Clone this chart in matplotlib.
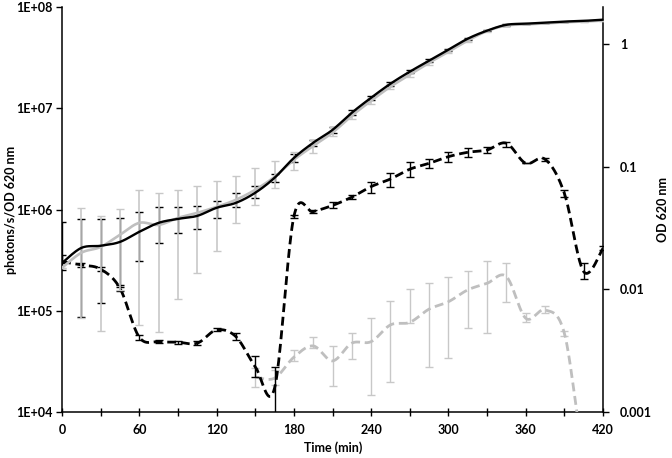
import numpy as np
import matplotlib
matplotlib.use("Agg")
import matplotlib.pyplot as plt
from matplotlib.ticker import FixedLocator, FixedFormatter

plt.rcParams['font.family'] = ['Lato', 'DejaVu Sans']
plt.rcParams['font.weight'] = 'bold'

time = [0, 15, 30, 45, 60, 75, 90, 105, 120, 135, 150, 165, 180, 195, 210,
        225, 240, 255, 270, 285, 300, 315, 330, 345, 360, 375, 390, 405, 420]

# OD 620 nm (right axis)
od_black = [0.0164, 0.0218, 0.0227, 0.0244, 0.0295, 0.0349, 0.0376, 0.0398, 0.0463, 0.0508,
            0.0614, 0.0813, 0.118, 0.157, 0.200, 0.276, 0.366, 0.476, 0.597, 0.733,
            0.902, 1.109, 1.29, 1.44, 1.47, 1.50, 1.53, 1.55, 1.585]
od_black_lo = [0.0164, 0.0059, 0.0077, 0.0104, 0.0172, 0.0238, 0.0291, 0.031, 0.038, 0.0466,
               0.056, 0.0755, 0.109, 0.148, 0.190, 0.264, 0.352, 0.460, 0.580, 0.715,
               0.882, 1.09, 1.27, 1.42, 1.47, 1.50, 1.53, 1.55, 1.585]
od_black_hi = [0.0356, 0.0377, 0.0377, 0.0384, 0.0424, 0.0474, 0.0474, 0.0483, 0.0527, 0.061,
               0.070, 0.0875, 0.127, 0.166, 0.210, 0.288, 0.380, 0.492, 0.614, 0.751,
               0.922, 1.13, 1.31, 1.46, 1.47, 1.50, 1.53, 1.55, 1.585]

od_gray = [0.0150, 0.0199, 0.0222, 0.0279, 0.0349, 0.0336, 0.0383, 0.0421, 0.0471, 0.0538,
           0.0649, 0.0828, 0.114, 0.148, 0.190, 0.261, 0.346, 0.450, 0.564, 0.706,
           0.868, 1.07, 1.28, 1.42, 1.45, 1.48, 1.51, 1.53, 1.56]
od_gray_lo = [0.0150, 0.00585, 0.00461, 0.0099, 0.00513, 0.00452, 0.00832, 0.0137, 0.0204, 0.0351,
              0.049, 0.067, 0.0933, 0.129, 0.177, 0.245, 0.328, 0.428, 0.540, 0.680,
              0.840, 1.04, 1.25, 1.40, 1.45, 1.48, 1.51, 1.53, 1.56]
od_gray_hi = [0.0150, 0.0462, 0.0398, 0.0454, 0.0641, 0.061, 0.0641, 0.070, 0.0773, 0.0834,
              0.0976, 0.1125, 0.132, 0.166, 0.211, 0.275, 0.362, 0.470, 0.588, 0.730,
              0.895, 1.10, 1.31, 1.44, 1.45, 1.48, 1.51, 1.53, 1.56]

# photons/s/OD 620 nm (left axis)
lum_black = [3.06e5, 2.84e5, 2.58e5, 1.67e5, 5.48e4, 4.96e4, 4.90e4, 4.79e4, 6.47e4, 5.56e4,
             2.81e4, 1.72e4, 8.53e5, 9.55e5, 1.10e6, 1.33e6, 1.69e6, 2.01e6, 2.51e6, 2.87e6,
             3.34e6, 3.69e6, 3.89e6, 4.53e6, 2.87e6, 3.15e6, 1.45e6, 2.44e5, 4.14e5]
lum_black_lo = [2.55e5, 2.70e5, 2.45e5, 1.58e5, 5.2e4, 4.8e4, 4.75e4, 4.55e4, 6.25e4, 5.2e4,
                2.24e4, 6.2e3, 8.2e5, 9.2e5, 1.03e6, 1.27e6, 1.47e6, 1.66e6, 2.12e6, 2.56e6,
                2.98e6, 3.30e6, 3.65e6, 4.2e6, 2.87e6, 3.05e6, 1.34e6, 2.07e5, 3.95e5]
lum_black_hi = [3.57e5, 2.98e5, 2.71e5, 1.78e5, 5.8e4, 5.12e4, 5.05e4, 5.05e4, 6.7e4, 6.0e4,
                3.58e4, 2.81e4, 8.9e5, 9.9e5, 1.20e6, 1.40e6, 1.89e6, 2.32e6, 2.94e6, 3.17e6,
                3.69e6, 4.10e6, 4.15e6, 4.64e6, 2.87e6, 3.25e6, 1.57e6, 2.99e5, 4.35e5]

nan = np.nan
lum_gray = [nan, nan, nan, nan, nan, nan, nan, nan, nan, nan,
            2.21e4, 2.16e4, 3.48e4, 4.50e4, 3.20e4, 4.79e4, 4.96e4, 7.26e4, 7.7e4, 1.04e5,
            1.23e5, 1.61e5, 1.87e5, 2.18e5, 8.45e4, 1.02e5, 6.01e4, 4.1e3, 2.0e3]
lum_gray_lo = [nan, nan, nan, nan, nan, nan, nan, nan, nan, nan,
               1.78e4, 1.85e4, 3.18e4, 4.27e4, 1.81e4, 3.32e4, 1.48e4, 1.97e4, 7.6e4, 2.81e4,
               3.40e4, 6.73e4, 6.01e4, 1.23e5, 7.82e4, 9.47e4, 5.7e4, 4.1e3, 2.0e3]
lum_gray_hi = [nan, nan, nan, nan, nan, nan, nan, nan, nan, nan,
               2.71e4, 2.61e4, 4.11e4, 5.56e4, 4.50e4, 6.01e4, 8.45e4, 1.26e5, 1.63e5, 1.90e5,
               2.18e5, 2.49e5, 3.13e5, 2.99e5, 9.6e4, 1.12e5, 6.3e4, 4.1e3, 2.0e3]

x_ticks = [0, 30, 60, 90, 120, 150, 180, 210, 240, 270, 300, 330, 360, 390, 420]
x_labels = ['0', '', '60', '', '120', '', '180', '', '240', '', '300', '', '360', '', '420']
left_ticks = [1e4, 1e5, 1e6, 1e7, 1e8]
left_labels = ['1E+04', '1E+05', '1E+06', '1E+07', '1E+08']
right_ticks = [0.001, 0.01, 0.1, 1]
right_labels = ['0.001', '0.01', '0.1', '1']

BLACK = '#000000'
GRAY = '#bfbfbf'
GRAY_ERR = '#c8c8c8'


def smooth(x, y, n=24):
    """Excel-like smoothed line (Catmull-Rom Bezier) in log-y display space."""
    x = np.asarray(x, float)
    y = np.asarray(y, float)
    m = ~np.isnan(y)
    x, ly = x[m], np.log10(y[m])
    pts = np.column_stack([x, ly])
    out = [pts[0]]
    t = np.linspace(0, 1, n)[1:, None]
    for i in range(len(pts) - 1):
        p0 = pts[max(i - 1, 0)]
        p1 = pts[i]
        p2 = pts[i + 1]
        p3 = pts[min(i + 2, len(pts) - 1)]
        c1 = p1 + (p2 - p0) / 6.0
        c2 = p2 - (p3 - p1) / 6.0
        seg = ((1 - t) ** 3) * p1 + 3 * ((1 - t) ** 2) * t * c1 + 3 * (1 - t) * t ** 2 * c2 + t ** 3 * p2
        out.extend(seg)
    out = np.array(out)
    return out[:, 0], 10 ** out[:, 1]


def err(v, lo, hi):
    v = np.asarray(v, float)
    return [v - np.asarray(lo, float), np.asarray(hi, float) - v]


fig = plt.figure(figsize=(6.72, 4.58), dpi=100)
ax = fig.add_axes([62 / 672, 46 / 458, 541 / 672, 404.7 / 458])
ax2 = ax.twinx()

ax.set_yscale('log')
ax2.set_yscale('log')
ax.set_xlim(0, 420)
ax.set_ylim(1e4, 1e8)
ax2.set_ylim(0.001, 2.0)

# luminescence (left axis), dashed
ax.errorbar(time, lum_gray, yerr=err(lum_gray, lum_gray_lo, lum_gray_hi), fmt='none',
            ecolor=GRAY_ERR, elinewidth=1.0, capsize=3.2, capthick=1.0, zorder=2)
xs, ys = smooth(time, lum_gray)
ax.plot(xs, ys, color=GRAY, lw=2.0, dashes=(3.2, 1.7), zorder=3)
ax.errorbar(time, lum_black, yerr=err(lum_black, lum_black_lo, lum_black_hi), fmt='none',
            ecolor=BLACK, elinewidth=1.0, capsize=3.2, capthick=1.0, zorder=4)
xs, ys = smooth(time, lum_black)
ax.plot(xs, ys, color=BLACK, lw=2.0, dashes=(3.2, 1.7), zorder=5)

# OD (right axis), solid
ax2.errorbar(time, od_black, yerr=err(od_black, od_black_lo, od_black_hi), fmt='none',
             ecolor=BLACK, elinewidth=1.0, capsize=3.2, capthick=1.0, zorder=2)
ax2.errorbar(time, od_gray, yerr=err(od_gray, od_gray_lo, od_gray_hi), fmt='none',
             ecolor=GRAY_ERR, elinewidth=1.2, capsize=3.2, capthick=1.0, zorder=3)
xs, ys = smooth(time, od_gray)
ax2.plot(xs, ys, color=GRAY, lw=1.9, solid_capstyle='round', zorder=4)
xs, ys = smooth(time, od_black)
ax2.plot(xs, ys, color=BLACK, lw=1.7, solid_capstyle='round', zorder=5)

# axes styling
for a in (ax, ax2):
    a.spines['top'].set_visible(False)
    for s in ('left', 'right', 'bottom'):
        a.spines[s].set_linewidth(1.1)
ax.spines['right'].set_visible(False)
ax2.spines['left'].set_visible(False)
ax2.spines['bottom'].set_visible(False)

ax.xaxis.set_major_locator(FixedLocator(x_ticks))
ax.xaxis.set_major_formatter(FixedFormatter(x_labels))
ax.yaxis.set_major_locator(FixedLocator(left_ticks))
ax.yaxis.set_major_formatter(FixedFormatter(left_labels))
ax.yaxis.set_minor_locator(FixedLocator([]))
ax2.yaxis.set_major_locator(FixedLocator(right_ticks))
ax2.yaxis.set_major_formatter(FixedFormatter(right_labels))
ax2.yaxis.set_minor_locator(FixedLocator([]))

ax.tick_params(axis='x', direction='inout', length=6, width=1.0, pad=6, labelsize=9)
ax.tick_params(axis='y', direction='out', length=4, width=1.0, pad=3, labelsize=9)
ax2.tick_params(axis='y', direction='out', length=4, width=1.0, pad=8, labelsize=9)

ax.set_xlabel('Time (min)', fontsize=9, fontweight='bold')
ax.set_ylabel('photons/s/OD 620 nm', fontsize=9, fontweight='bold')
ax2.set_ylabel('OD 620 nm', fontsize=9, fontweight='bold')
ax.xaxis.set_label_coords(0.501, -0.072)
ax.yaxis.set_label_coords(-0.084, 0.5)
ax2.yaxis.set_label_coords(1.099, 0.5)

fig.savefig('out.png', dpi=100)
